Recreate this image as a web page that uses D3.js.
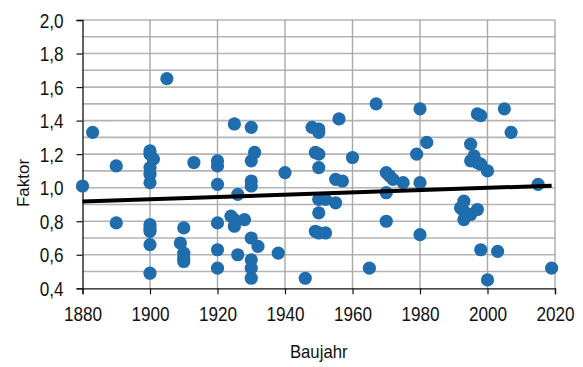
<!DOCTYPE html>
<html>
<head>
<meta charset="utf-8">
<script src="https://cdn.jsdelivr.net/npm/d3@7"></script>
<style>
  html, body { margin: 0; padding: 0; background: #fff; }
  svg text { font-family: "Liberation Sans Narrow", "Arial Narrow", "Liberation Sans", sans-serif; fill: #111; }
</style>
</head>
<body>
<svg id="chart" width="583" height="367"></svg>
<script>
// Construction year of each building
const baujahr = [
  1880, 1883, 1890, 1890,
  1900, 1900, 1901, 1900, 1900, 1900, 1900, 1900, 1900, 1900, 1900,
  1905, 1909, 1910, 1910, 1910, 1910, 1913,
  1920, 1920, 1920, 1920, 1920, 1920,
  1924, 1925, 1925, 1925, 1926, 1926, 1928,
  1930, 1930, 1931, 1930, 1930, 1930, 1932, 1930, 1930, 1930,
  1938, 1940, 1946,
  1948, 1950, 1950, 1949, 1950, 1950, 1956, 1950, 1952, 1955, 1957, 1955, 1950, 1949, 1950, 1952,
  1960, 1965, 1967, 1970, 1971, 1972, 1975, 1970, 1970,
  1979, 1980, 1980, 1980, 1982,
  1995, 1996, 1995, 1997, 1998, 2000, 1997, 1998,
  1993, 1992, 1993, 1997, 1995, 1993,
  1998, 2003, 2000, 2005, 2007, 2015, 2019
];

// Factor per building, same order as baujahr
const faktor = [
  1.01, 1.33, 1.13, 0.79,
  1.22, 1.20, 1.17, 1.12, 1.08, 1.03, 0.78, 0.76, 0.74, 0.66, 0.49,
  1.65, 0.67, 0.76, 0.61, 0.58, 0.56, 1.15,
  1.16, 1.13, 1.02, 0.79, 0.63, 0.52,
  0.83, 1.38, 0.81, 0.77, 0.96, 0.60, 0.81,
  1.36, 1.16, 1.21, 1.04, 1.01, 0.70, 0.65, 0.57, 0.52, 0.46,
  0.61, 1.09, 0.46,
  1.36, 1.35, 1.33, 1.21, 1.20, 1.12, 1.41, 0.93, 0.93, 1.05, 1.04, 0.91, 0.85, 0.74, 0.73, 0.73,
  1.18, 0.52, 1.50, 1.09, 1.07, 1.05, 1.03, 0.97, 0.80,
  1.20, 1.47, 1.03, 0.72, 1.27,
  1.26, 1.19, 1.16, 1.15, 1.14, 1.10, 1.44, 1.43,
  0.92, 0.88, 0.86, 0.87, 0.84, 0.81,
  0.63, 0.62, 0.45, 1.47, 1.33, 1.02, 0.52
];

// Linear trend line: endpoints (year, factor)
const trendYears = [1880, 2019];
const trendValues = [0.917, 1.012];

// Axis ticks
const xTicks = [1880, 1900, 1920, 1940, 1960, 1980, 2000, 2020];
const yTicks = [0.4, 0.6, 0.8, 1.0, 1.2, 1.4, 1.6, 1.8, 2.0];
const yGrid = [0.5, 0.6, 0.7, 0.8, 0.9, 1.0, 1.1, 1.2, 1.3, 1.4, 1.5, 1.6, 1.7, 1.8, 1.9, 2.0];

const xLabel = "Baujahr";
const yLabel = "Faktor";

const svg = d3.select("#chart");
const plotLeft = 82.5, plotRight = 555, plotTop = 20, plotBottom = 288.3;

const x = d3.scaleLinear().domain([1880, 2020]).range([plotLeft, plotRight]);
const y = d3.scaleLinear().domain([0.4, 2.0]).range([plotBottom, plotTop]);
const fmt = v => d3.format(".1f")(v).replace(".", ",");

// Condense text horizontally (narrow sans look) when no narrow face is installed
function narrow(sel, factor) {
  sel.each(function () {
    const w = this.getComputedTextLength();
    if (w > 0) {
      d3.select(this).attr("textLength", w * factor).attr("lengthAdjust", "spacingAndGlyphs");
    }
  });
}

// Gridlines
const grid = svg.append("g");
grid.selectAll("line.h").data(yGrid).join("line")
  .attr("class", "h")
  .attr("x1", plotLeft).attr("x2", plotRight)
  .attr("y1", d => y(d)).attr("y2", d => y(d))
  .attr("stroke", "#b4b4b4").attr("stroke-width", 1.6);
grid.selectAll("line.v").data(xTicks.slice(1)).join("line")
  .attr("class", "v")
  .attr("x1", d => x(d)).attr("x2", d => x(d))
  .attr("y1", plotTop).attr("y2", plotBottom)
  .attr("stroke", "#a8a8a8").attr("stroke-width", 1.4);

// Axes
const xAxis = svg.append("g")
  .attr("transform", `translate(0,${plotBottom})`)
  .call(d3.axisBottom(x).tickValues(xTicks).tickFormat(d3.format("d")).tickSize(6).tickPadding(13));
const yAxis = svg.append("g")
  .attr("transform", `translate(${plotLeft},0)`)
  .call(d3.axisLeft(y).tickValues(yTicks).tickFormat(fmt).tickSize(6).tickPadding(13));
[xAxis, yAxis].forEach(a => {
  a.select(".domain").attr("stroke", "#111").attr("stroke-width", 1.3);
  a.selectAll(".tick line").attr("stroke", "#111").attr("stroke-width", 1.2);
  a.selectAll("text").style("font-size", "19.5px").attr("fill", "#111");
});
yAxis.selectAll("text").attr("dy", "0.36em");
narrow(xAxis.selectAll("text"), 0.88);
narrow(yAxis.selectAll("text"), 0.88);

// Points
svg.append("g").selectAll("circle").data(baujahr.map((b, i) => [b, faktor[i]])).join("circle")
  .attr("cx", d => x(d[0])).attr("cy", d => y(d[1]))
  .attr("r", 6.6).attr("fill", "#1f6dad");

// Trend line
svg.append("line")
  .attr("x1", x(trendYears[0])).attr("y1", y(trendValues[0]))
  .attr("x2", x(trendYears[1])).attr("y2", y(trendValues[1]))
  .attr("stroke", "#000").attr("stroke-width", 4);

// Axis titles
const xt = svg.append("text").attr("x", (plotLeft + plotRight) / 2).attr("y", 358)
  .attr("text-anchor", "middle").style("font-size", "19px").text(xLabel);
const yt = svg.append("text").attr("transform", "translate(29,183) rotate(-90)")
  .attr("text-anchor", "middle").style("font-size", "17px").text(yLabel);
narrow(xt, 0.88);
</script>
</body>
</html>
